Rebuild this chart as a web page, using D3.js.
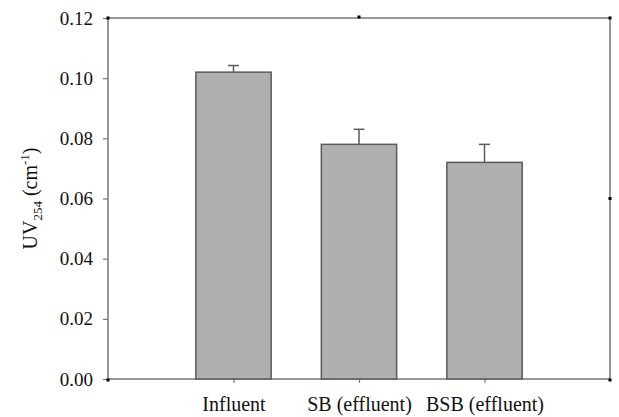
<!DOCTYPE html>
<html><head><meta charset="utf-8">
<script src="https://cdn.jsdelivr.net/npm/d3@7"></script>
<style>body{margin:0;background:#fff}svg{display:block}svg text,svg tspan{font-family:'Liberation Serif',serif !important}</style>
</head><body><svg id="c" width="619" height="417" font-family="Liberation Serif"></svg>
<script>
const categories = ["Influent", "SB (effluent)", "BSB (effluent)"];
const values = [0.102, 0.078, 0.072];
const errors = [0.0022, 0.005, 0.006];
const yTicks = [0, 0.02, 0.04, 0.06, 0.08, 0.10, 0.12];

const FONT = "'Liberation Serif', serif";
const svg = d3.select("#c");
const L = 108, R = 610, T = 18, B = 379;
const x = d3.scaleLinear().domain([0, 4]).range([L, R]);
const y = d3.scaleLinear().domain([0, 0.12]).range([B, T]);
const bw = x(0.6) - x(0);
const axisCol = "#777", barStroke = "#5a5a5a";

// frame
svg.append("path").attr("d", `M${L},${T}H${R}V${B}H${L}Z`).attr("fill", "none").attr("stroke", axisCol).attr("stroke-width", 1.5);

// left axis
const ya = svg.append("g").attr("transform", `translate(${L},0)`)
  .call(d3.axisLeft(y).tickValues(yTicks).tickFormat(d3.format(".2f")).tickSize(5).tickPadding(10));
ya.attr("font-family", "Liberation Serif").attr("font-size", 19);
ya.select(".domain").remove();
ya.selectAll("line").attr("stroke", axisCol).attr("stroke-width", 1.2);
ya.selectAll("text").style("font-family", FONT, "important").attr("fill", "#111");

// bottom axis
const xa = svg.append("g").attr("transform", `translate(0,${B})`)
  .call(d3.axisBottom(x).tickValues([1, 2, 3]).tickFormat((d) => categories[d - 1]).tickSize(4).tickPadding(14));
xa.attr("font-family", "Liberation Serif").attr("font-size", 20);
xa.select(".domain").remove();
xa.selectAll("line").attr("stroke", axisCol).attr("stroke-width", 1.2);
xa.selectAll("text").style("font-family", FONT, "important").attr("fill", "#111");

// small corner marks
const dots = [[L, T], [x(2), T - 1], [R, T], [R, y(0.06)], [R, B + 1], [L, B + 1]];
svg.selectAll("rect.dot").data(dots).join("rect").attr("class", "dot")
  .attr("x", (d) => d[0] - 1.5).attr("y", (d) => d[1] - 1.5).attr("width", 3).attr("height", 3).attr("fill", "#000");

// error bars
const eb = svg.append("g").attr("stroke", barStroke).attr("stroke-width", 1.5).attr("fill", "none");
values.forEach((v, i) => {
  const cx = x(i + 1);
  eb.append("line").attr("x1", cx).attr("x2", cx).attr("y1", y(v)).attr("y2", y(v + errors[i]));
  eb.append("line").attr("x1", cx - 5.5).attr("x2", cx + 5.5).attr("y1", y(v + errors[i])).attr("y2", y(v + errors[i]));
});

// bars
svg.append("g").selectAll("rect").data(values).join("rect")
  .attr("x", (d, i) => x(i + 1) - bw / 2).attr("width", bw)
  .attr("y", (d) => y(d)).attr("height", (d) => B - y(d))
  .attr("fill", "#b0b0b0").attr("stroke", barStroke).attr("stroke-width", 1.5);

// y title
const t = svg.append("text").attr("transform", `translate(37,${(T + B) / 2}) rotate(-90)`)
  .attr("text-anchor", "middle").attr("fill", "#111").attr("font-size", 20)
  .style("font-family", FONT, "important");
t.append("tspan").text("UV");
t.append("tspan").attr("font-size", 13).attr("dy", 5).text("254");
t.append("tspan").attr("dy", -5).text(" (cm");
t.append("tspan").attr("font-size", 13).attr("dy", -8).text("-1");
t.append("tspan").attr("dy", 8).text(")");
</script></body></html>
